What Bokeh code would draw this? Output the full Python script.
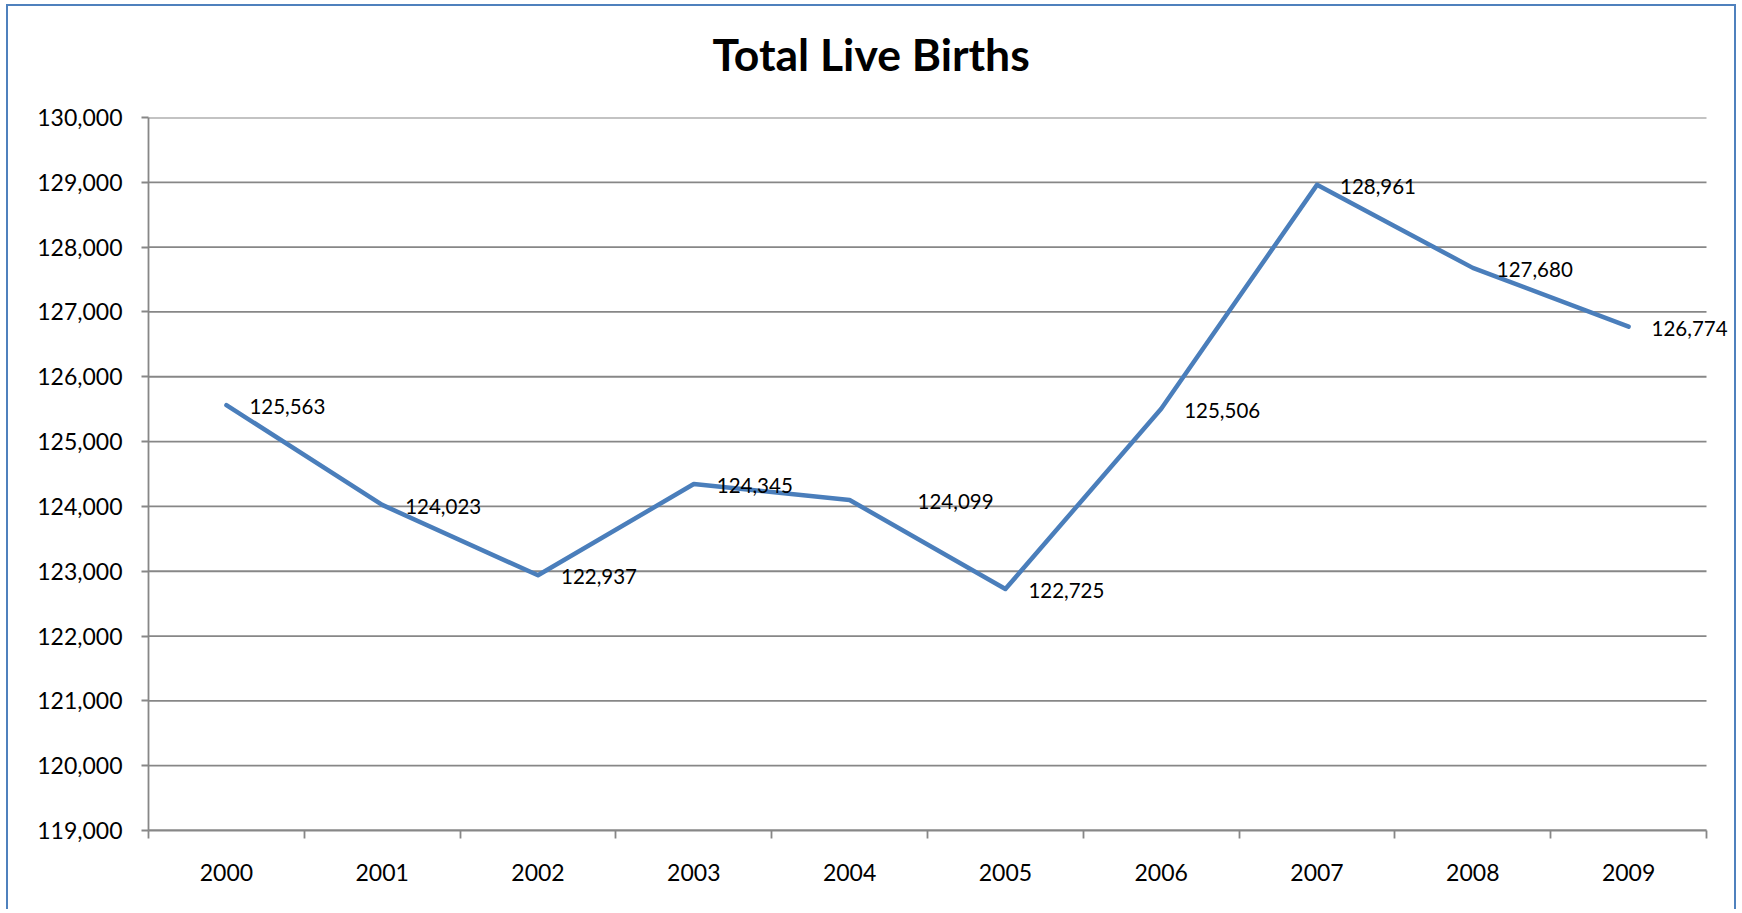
from bokeh.plotting import figure
from bokeh.models import (ColumnDataSource, FixedTicker, NumeralTickFormatter,
                          LabelSet, Range1d, Title)
from bokeh.core.properties import value
from bokeh.embed import file_html
from bokeh.resources import INLINE

# ---- data ----
years = [2000, 2001, 2002, 2003, 2004, 2005, 2006, 2007, 2008, 2009]
births = [125563, 124023, 122937, 124345, 124099, 122725, 125506, 128961, 127680, 126774]
y_ticks = [119000, 120000, 121000, 122000, 123000, 124000, 125000,
           126000, 127000, 128000, 129000, 130000]
title_text = "Total Live Births"

# ---- styling helpers (not data) ----
label_dx = [23, 23, 23, 23, 68, 23, 23, 23, 24, 23]
x_bounds = [y - 0.5 for y in years] + [years[-1] + 0.5]

GRID = "#878787"
LINE = "#4a7ebb"
FONT = "Lato"

W, H = 1726, 905
PLOT_W = 1558          # width in px of the category area
EXTRA_R = 26           # extra room on the right so the last data label is not clipped
x_end = x_bounds[-1] + EXTRA_R * (x_bounds[-1] - x_bounds[0]) / PLOT_W

src = ColumnDataSource(dict(
    x=years,
    y=births,
    label=[f"{v:,}" for v in births],
    dx=label_dx,
))
grid_src = ColumnDataSource(dict(
    x0=[x_bounds[0]] * len(y_ticks),
    x1=[x_bounds[-1]] * len(y_ticks),
    y=y_ticks,
))

p = figure(width=W, height=H, output_backend="svg", toolbar_location=None,
           x_range=Range1d(x_bounds[0], x_end),
           y_range=Range1d(y_ticks[0], y_ticks[-1]),
           min_border_left=140, min_border_right=W - 140 - PLOT_W - EXTRA_R,
           min_border_top=111, min_border_bottom=81,
           margin=(6, 0, 0, 8))
p.title = None
p.outline_line_color = None
p.background_fill_color = "white"
p.border_fill_color = "white"
p.styles = {"box-shadow": "-2px -2px 0 0 #4f81bd, 2px -2px 0 0 #4f81bd"}

# spacer between plot area and title, then the title itself
p.add_layout(Title(text=" ", text_font_size="1px", standoff=29), "above")
p.add_layout(Title(text=title_text, align="left", offset=564, vertical_align="middle",
                   text_font=FONT, text_font_size="44.5px", text_font_style="bold",
                   text_color="black"), "above")

# x axis
p.xaxis.bounds = (x_bounds[0], x_bounds[-1])
p.xaxis.ticker = FixedTicker(ticks=years, minor_ticks=x_bounds)
p.xaxis.major_tick_out = 0
p.xaxis.major_tick_in = 0
p.xaxis.minor_tick_out = 8
p.xaxis.minor_tick_in = 0
p.xaxis.minor_tick_line_color = GRID
p.xaxis.minor_tick_line_width = 1.8
p.xaxis.axis_line_color = GRID
p.xaxis.axis_line_width = 1.8
p.xaxis.major_label_text_font = FONT
p.xaxis.major_label_text_font_size = "23px"
p.xaxis.major_label_text_color = "black"
p.xaxis.major_label_standoff = 25
p.xgrid.visible = False

# y axis
p.yaxis.ticker = FixedTicker(ticks=y_ticks)
p.yaxis.formatter = NumeralTickFormatter(format="0,0")
p.yaxis.major_tick_out = 7
p.yaxis.major_tick_in = 0
p.yaxis.minor_tick_line_color = None
p.yaxis.major_tick_line_color = GRID
p.yaxis.major_tick_line_width = 1.8
p.yaxis.axis_line_color = GRID
p.yaxis.axis_line_width = 1.8
p.yaxis.major_label_text_font = FONT
p.yaxis.major_label_text_font_size = "23px"
p.yaxis.major_label_text_color = "black"
p.yaxis.major_label_standoff = 19
p.ygrid.visible = False

# horizontal gridlines limited to the category area
p.segment(x0="x0", x1="x1", y0="y", y1="y", source=grid_src,
          line_color=GRID, line_width=1.8)

# series
p.line("x", "y", source=src, line_color=LINE, line_width=4.5,
       line_join="round", line_cap="round")

labels = LabelSet(x="x", y="y", text="label", source=src, x_offset="dx", y_offset=-1.5,
                  text_font=value(FONT), text_font_size=value("20.5px"),
                  text_color="black", text_align="left", text_baseline="middle")
p.add_layout(labels)

open("out.html", "w").write(file_html(p, INLINE))
